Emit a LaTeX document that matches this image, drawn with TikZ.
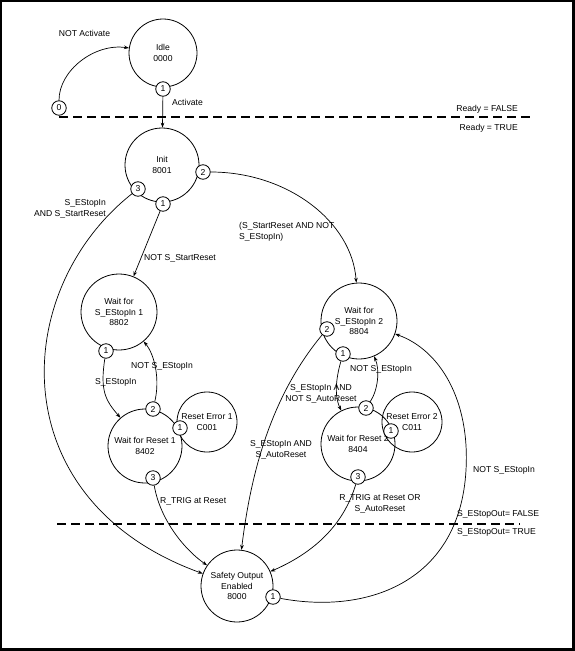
\documentclass[tikz,border=0pt]{standalone}
\usepackage{fontspec}
\setmainfont{Liberation Sans}
\usetikzlibrary{arrows.meta}
\begin{document}
\begin{tikzpicture}[x=1pt,y=-1pt,
  every node/.style={font=\fontsize{8.6}{10.5}\selectfont, inner sep=0pt},
  state/.style={draw, circle, line width=0.8pt, align=center},
  port/.style={draw, circle, line width=0.8pt, fill=white, minimum size=14.5pt},
  lbl/.style={align=center},
  conn/.style={line width=0.7pt, -{Stealth[length=5pt,width=3.6pt]}},
  sep/.style={line width=2.8pt, dash pattern=on 9pt off 5pt}
]
\useasboundingbox (0,0) rectangle (575,651);
\fill[black] (0,0) rectangle (575,651);
\fill[white] (2,2) rectangle (572,648);

% states
\node[state, minimum size=68pt] (idle) at (163,53) {Idle\\0000};
\node[state, minimum size=74pt] (init) at (162,165) {Init\\8001};
\node[state, minimum size=76pt] (wfe1) at (119,312) {Wait for\\S\_EStopIn 1\\8802};
\node[state, minimum size=74pt] (wfr1) at (145,446) {Wait for Reset 1\\8402};
\node[state, minimum size=60pt] (re1) at (207,422) {Reset Error 1\\C001};
\node[state, minimum size=76pt] (wfe2) at (359,321) {Wait for\\S\_EStopIn 2\\8804};
\node[state, minimum size=74pt] (wfr2) at (358,444) {Wait for Reset 2\\8404};
\node[state, minimum size=60pt] (re2) at (412,422) {Reset Error 2\\C011};
\node[state, minimum size=72pt] (so) at (237,586) {Safety Output\\Enabled\\8000};

% ports
\node[port] (idle0) at (59,108) {0};
\node[port] (idle1) at (163,89) {1};
\node[port] (init2) at (203,172) {2};
\node[port] (init3) at (138,189) {3};
\node[port] (init1) at (163,204) {1};
\node[port] (wfe1p1) at (106,351) {1};
\node[port] (wfr1p2) at (153,409) {2};
\node[port] (wfr1p1) at (180,428) {1};
\node[port] (wfr1p3) at (153,478) {3};
\node[port] (wfe2p2) at (327,329) {2};
\node[port] (wfe2p1) at (343,354) {1};
\node[port] (wfr2p2) at (366,408) {2};
\node[port] (wfr2p1) at (391,431) {1};
\node[port] (wfr2p3) at (358,477) {3};
\node[port] (sop1) at (273,597) {1};

% separators
\draw[sep] (59,117) -- (533,117);
\draw[sep] (57,524) -- (520,524);

% connectors
\draw[conn] (idle0) .. controls (59,70) and (95,43) .. (idle);
\draw[conn] (idle1) -- (init);
\draw[conn] (init2) .. controls (288,172) and (352,222) .. (wfe2);
\draw[conn] (init1) -- (wfe1);
\draw[conn] (init3) .. controls (10,290) and (0,500) .. (so);
\draw[conn] (wfe1p1) .. controls (100,390) and (105,400) .. (wfr1);
\draw[conn] (wfr1p2) .. controls (160,380) and (155,355) .. (wfe1);
\draw[conn] (wfr1p3) .. controls (160,520) and (185,550) .. (so);
\draw[conn] (wfe2p2) .. controls (268,400) and (250,480) .. (so);
\draw[conn] (wfe2p1) .. controls (334,385) and (336,400) .. (wfr2);
\draw[conn] (wfr2p2) .. controls (378,390) and (380,370) .. (wfe2);
\draw[conn] (wfr2p3) .. controls (345,520) and (320,550) .. (so);
\draw[conn] (sop1) .. controls (370,615) and (460,580) .. (466,470)
   .. controls (470,400) and (440,350) .. (wfe2);

% labels
\node[lbl] (l1) at (84.5,33) {NOT Activate};
\node[lbl, anchor=west] (l2) at (172,102) {Activate};
\node[lbl, anchor=east] (l3) at (518,109) {Ready = FALSE};
\node[lbl, anchor=east] (l4) at (518,128) {Ready = TRUE};
\node[align=right, anchor=east] (l5) at (106,209) {S\_EStopIn\\AND S\_StartReset};
\node[lbl, anchor=west] (l6) at (144,258) {NOT S\_StartReset};
\node[align=left, anchor=west] (l7) at (239,232) {(S\_StartReset AND NOT\\S\_EStopIn)};
\node[lbl, anchor=west] (l8) at (95,382) {S\_EStopIn};
\node[lbl, anchor=west] (l9) at (131,366) {NOT S\_EStopIn};
\node[lbl, anchor=west] (l10) at (160,501) {R\_TRIG at Reset};
\node[lbl] (l11) at (281,450) {S\_EStopIn AND\\S\_AutoReset};
\node[lbl] (l12) at (321,394) {S\_EStopIn AND\\NOT S\_AutoReset};
\node[lbl, anchor=west] (l13) at (350,369) {NOT S\_EStopIn};
\node[lbl] (l14) at (380,504) {R\_TRIG at Reset OR\\S\_AutoReset};
\node[lbl, anchor=west] (l15) at (473,470) {NOT S\_EStopIn};
\node[lbl, anchor=west] (l16) at (457,514) {S\_EStopOut= FALSE};
\node[lbl, anchor=west] (l17) at (457,532) {S\_EStopOut= TRUE};
\end{tikzpicture}
\end{document}
